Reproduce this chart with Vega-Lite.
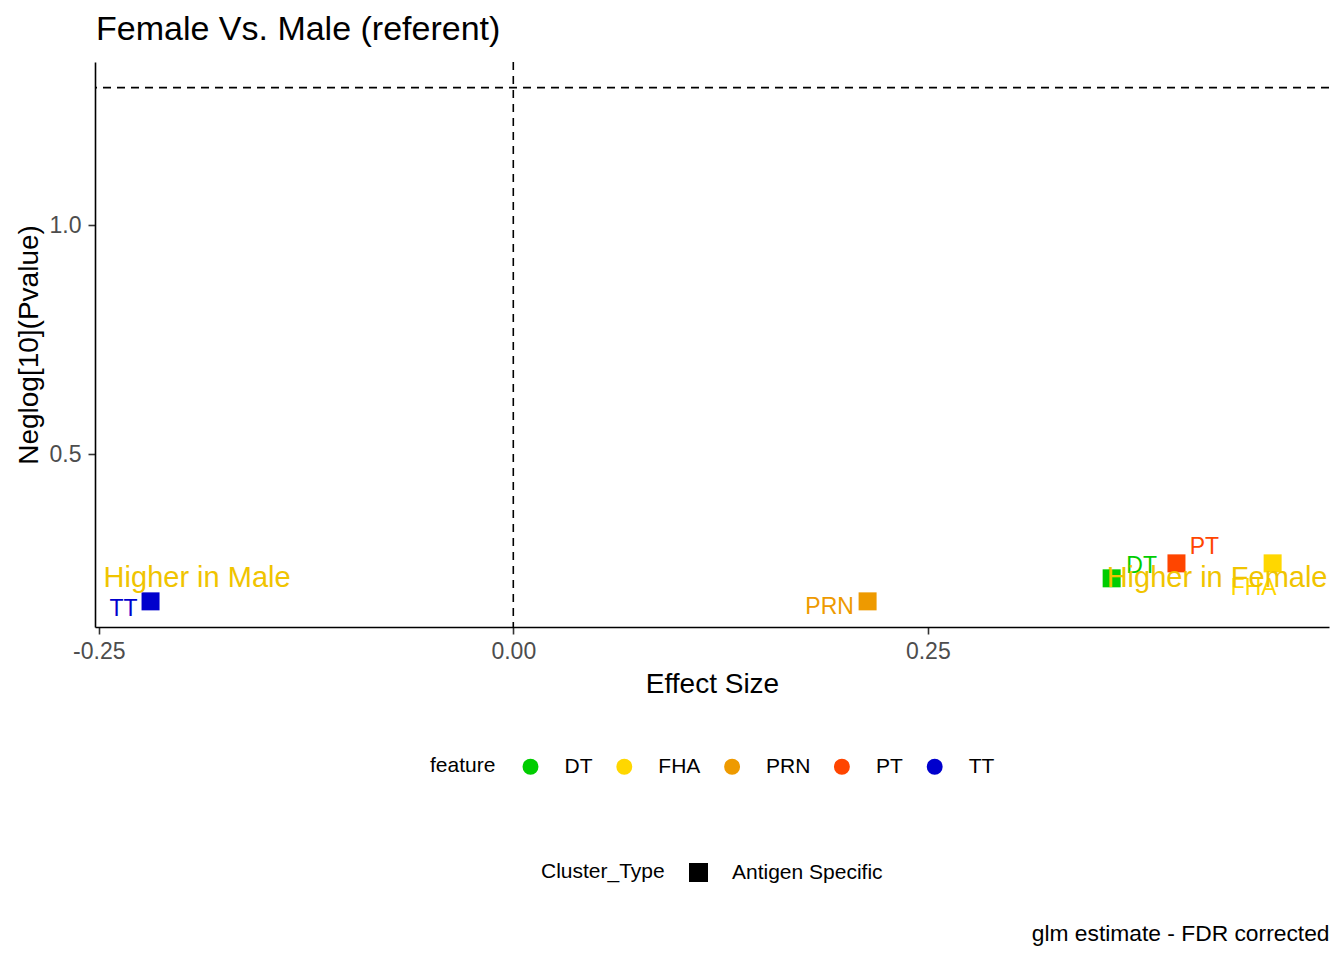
{
  "$schema": "https://vega.github.io/schema/vega-lite/v6.json",
  "width": 1234,
  "height": 565,
  "autosize": "none",
  "padding": {"left": 95, "top": 62, "right": 15, "bottom": 333},
  "title": {
    "text": "Female Vs. Male (referent)",
    "anchor": "start",
    "frame": "group",
    "fontSize": 34,
    "fontWeight": "normal",
    "color": "black",
    "baseline": "alphabetic",
    "offset": -13,
    "dx": 1
  },
  "datasets": {
    "effects": [
      {"feature": "TT", "Cluster_Type": "Antigen Specific", "estimate": -0.2188, "neglog_p": 0.179},
      {"feature": "PRN", "Cluster_Type": "Antigen Specific", "estimate": 0.2137, "neglog_p": 0.179},
      {"feature": "DT", "Cluster_Type": "Antigen Specific", "estimate": 0.3609, "neglog_p": 0.2293},
      {"feature": "PT", "Cluster_Type": "Antigen Specific", "estimate": 0.4, "neglog_p": 0.262},
      {"feature": "FHA", "Cluster_Type": "Antigen Specific", "estimate": 0.458, "neglog_p": 0.262}
    ],
    "notes": [
      {"label": "Higher in Male", "side": "left", "estimate": -0.2471, "neglog_p": 0.2293},
      {"label": "Higher in Female", "side": "right", "estimate": 0.4911, "neglog_p": 0.2293}
    ],
    "zero_line": [{"estimate": 0}],
    "signif_line": [{"neglog_p": 1.30103}],
    "caption": [{"caption_pos": 0}]
  },
  "layer": [
    {
      "layer": [
        {
          "data": {"name": "zero_line"},
          "mark": {"type": "rule", "strokeDash": [8, 6], "strokeWidth": 1.6, "color": "black"},
          "encoding": {
            "x": {"field": "estimate", "type": "quantitative", "title": "Effect Size", "scale": {"domain": [-0.2523, 0.492], "nice": false, "zero": false},
              "axis": {"values": [-0.25, 0, 0.25], "labelExpr": "replace(format(datum.value, '.2f'), '\u2212', '-')"}}
          }
        },
        {
          "data": {"name": "signif_line"},
          "mark": {"type": "rule", "strokeDash": [8, 6], "strokeWidth": 1.6, "color": "black"},
          "encoding": {
            "y": {"field": "neglog_p", "type": "quantitative", "title": "Neglog[10](Pvalue)", "scale": {"domain": [0.123, 1.357], "nice": false, "zero": false},
              "axis": {"values": [0.5, 1.0], "format": ".1f"}}
          }
        },
        {
          "data": {"name": "effects"},
          "mark": {"type": "point", "filled": true, "size": 324, "opacity": 1},
          "encoding": {
            "x": {"field": "estimate", "type": "quantitative", "title": "Effect Size", "scale": {"domain": [-0.2523, 0.492], "nice": false, "zero": false},
              "axis": {"values": [-0.25, 0, 0.25], "labelExpr": "replace(format(datum.value, '.2f'), '\u2212', '-')"}},
            "y": {"field": "neglog_p", "type": "quantitative", "title": "Neglog[10](Pvalue)", "scale": {"domain": [0.123, 1.357], "nice": false, "zero": false},
              "axis": {"values": [0.5, 1.0], "format": ".1f"}},
            "color": {
              "field": "feature",
              "type": "nominal",
              "scale": {
                "domain": ["DT", "FHA", "PRN", "PT", "TT"],
                "range": ["#00CD00", "#FFD700", "#EE9A00", "#FF4500", "#0000CD"]
              },
              "legend": {
                "orient": "none",
                "legendX": 335,
                "legendY": 694,
                "direction": "horizontal",
                "titleOrient": "left",
                "symbolType": "circle",
                "symbolSize": 254,
                "symbolStrokeWidth": 0,
                "labelOffset": 23.5,
                "columnPadding": 20.8,
                "titlePadding": 24
              }
            },
            "shape": {
              "field": "Cluster_Type",
              "type": "nominal",
              "scale": {"domain": ["Antigen Specific"], "range": ["square"]},
              "legend": {
                "orient": "none",
                "legendX": 446,
                "legendY": 800,
                "direction": "horizontal",
                "titleOrient": "left",
                "symbolSize": 361,
                "symbolFillColor": "black",
                "symbolStrokeColor": "black",
                "symbolStrokeWidth": 0,
                "labelOffset": 23,
                "titlePadding": 23
              }
            }
          }
        },
        {
          "data": {"name": "effects"},
          "mark": {
            "type": "text",
            "fontSize": 23,
            "baseline": "middle",
            "dx": {"expr": "datum.feature == 'TT' ? -27 : datum.feature == 'PRN' ? -38 : datum.feature == 'DT' ? 30 : datum.feature == 'PT' ? 28 : -19"},
            "dy": {"expr": "datum.feature == 'TT' ? 8 : datum.feature == 'PRN' ? 6 : datum.feature == 'DT' ? -12 : datum.feature == 'PT' ? -16 : 25"}
          },
          "encoding": {
            "x": {"field": "estimate", "type": "quantitative", "title": "Effect Size", "scale": {"domain": [-0.2523, 0.492], "nice": false, "zero": false}},
            "y": {"field": "neglog_p", "type": "quantitative", "title": "Neglog[10](Pvalue)", "scale": {"domain": [0.123, 1.357], "nice": false, "zero": false}},
            "text": {"field": "feature"},
            "color": {"field": "feature", "type": "nominal", "legend": null}
          }
        },
        {
          "data": {"name": "notes"},
          "mark": {
            "type": "text",
            "fontSize": 29,
            "baseline": "middle",
            "color": "#F0C400",
            "align": {"expr": "datum.side"}
          },
          "encoding": {
            "x": {"field": "estimate", "type": "quantitative", "title": "Effect Size", "scale": {"domain": [-0.2523, 0.492], "nice": false, "zero": false}},
            "y": {"field": "neglog_p", "type": "quantitative", "title": "Neglog[10](Pvalue)", "scale": {"domain": [0.123, 1.357], "nice": false, "zero": false}},
            "text": {"field": "label"}
          }
        }
      ]
    },
    {
      "data": {"name": "caption"},
      "mark": {"type": "point", "opacity": 0},
      "encoding": {
        "x": {
          "field": "caption_pos",
          "type": "quantitative",
          "axis": {
            "orient": "bottom",
            "title": "glm estimate - FDR corrected",
            "domain": false,
            "ticks": false,
            "labels": false,
            "grid": false,
            "titleAnchor": "end",
            "titleFontSize": 22.8,
            "titleBaseline": "alphabetic",
            "titleY": 313
          }
        }
      }
    }
  ],
  "resolve": {"scale": {"x": "independent"}},
  "config": {
    "font": "Liberation Sans",
    "view": {"stroke": null},
    "axis": {
      "grid": false,
      "domainColor": "black",
      "domainWidth": 1.6,
      "tickColor": "#333333",
      "tickWidth": 1.6,
      "tickSize": 7,
      "labelColor": "#4D4D4D",
      "labelFontSize": 23,
      "titleFontSize": 28,
      "titleFontWeight": "normal",
      "titleColor": "black"
    },
    "axisX": {"labelPadding": 6, "titlePadding": 7},
    "axisY": {"labelPadding": 7, "titlePadding": 6},
    "legend": {
      "labelFontSize": 21,
      "titleFontSize": 21,
      "titleFontWeight": "normal",
      "titleColor": "black",
      "labelColor": "black"
    }
  }
}
